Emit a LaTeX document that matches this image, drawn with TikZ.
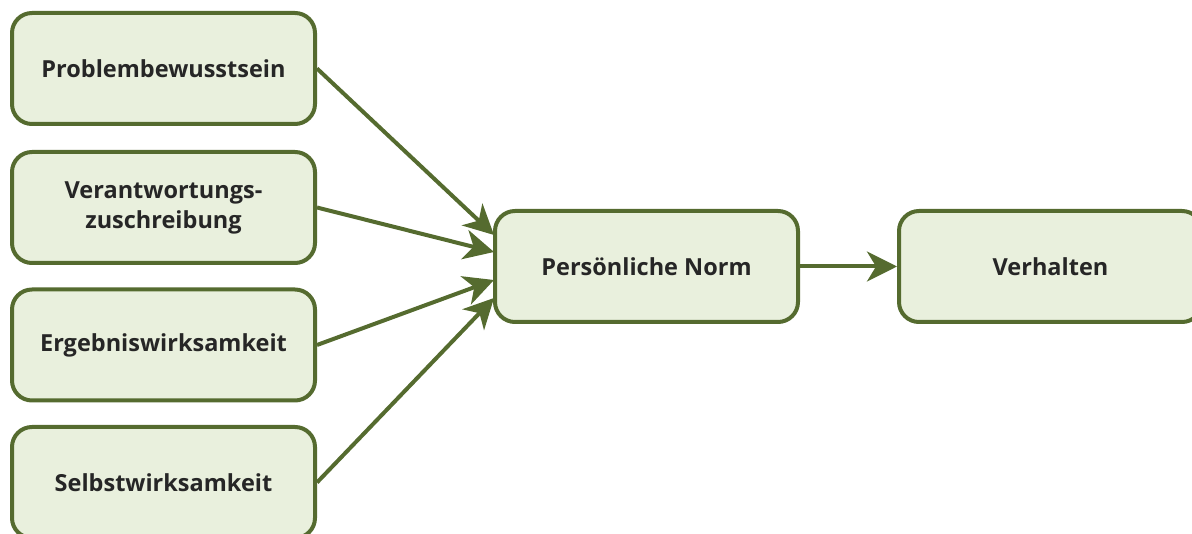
\documentclass[tikz,border=0pt]{standalone}
\usepackage{fontspec}
\setmainfont{Open Sans}
\usetikzlibrary{arrows.meta}
\definecolor{edge}{HTML}{556B2F}
\definecolor{boxfill}{HTML}{E9F0DD}
\definecolor{ink}{HTML}{262626}
\tikzset{
  box/.style={draw=edge, fill=boxfill, line width=4pt, rounded corners=20pt,
    minimum width=303pt, minimum height=111pt, inner sep=0pt,
    align=center, text=ink, font=\fontsize{23.5}{30}\selectfont\bfseries},
  link/.style={draw=edge, line width=4pt,
    -{Stealth[length=30pt,width=30pt,inset=9pt]}}
}
\begin{document}
\begin{tikzpicture}[x=1pt,y=-1pt]
  \useasboundingbox (0,0) rectangle (1192,534);
  \node[box] (p) at (163.5,68.5) {Problembewusstsein};
  \node[box] (v) at (163.5,207.5) {Verantwortungs-\\zuschreibung};
  \node[box] (e) at (163.5,345) {Ergebniswirksamkeit};
  \node[box] (s) at (163.5,482.5) {Selbstwirksamkeit};
  \node[box] (n) at (646.5,266.5) {Persönliche Norm};
  \node[box] (h) at (1050.5,266.5) {Verhalten};
  \coordinate (n1) at (494,235);
  \coordinate (n2) at (494,252);
  \coordinate (n3) at (494,280);
  \coordinate (n4) at (494,298);
  \draw[link] (p.east) -- (n1);
  \draw[link] (v.east) -- (n2);
  \draw[link] (e.east) -- (n3);
  \draw[link] (s.east) -- (n4);
  \draw[link] (n.east) -- (h.west);
\end{tikzpicture}
\end{document}
